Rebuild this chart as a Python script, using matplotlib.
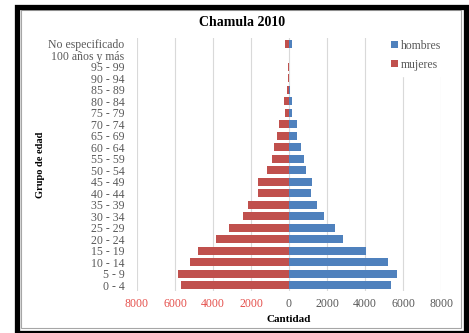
import matplotlib
matplotlib.use("Agg")
import matplotlib.pyplot as plt
from matplotlib.patches import Rectangle
from matplotlib.ticker import FixedLocator

# Population by age group, Chamula 2010
grupos = ["0 - 4", "5 - 9", "10 - 14", "15 - 19", "20 - 24", "25 - 29",
          "30 - 34", "35 - 39", "40 - 44", "45 - 49", "50 - 54", "55 - 59",
          "60 - 64", "65 - 69", "70 - 74", "75 - 79", "80 - 84", "85 - 89",
          "90 - 94", "95 - 99", "100 años y más", "No especificado"]
hombres = [5350, 5670, 5230, 4050, 2860, 2440, 1860, 1490, 1140, 1190,
           910, 770, 650, 400, 400, 175, 160, 30, 20, 10, 5, 160]
mujeres = [5680, 5830, 5210, 4810, 3840, 3180, 2420, 2140, 1630, 1650,
           1180, 910, 810, 610, 510, 195, 260, 105, 70, 30, 15, 195]
x_ticks = [-8000, -6000, -4000, -2000, 0, 2000, 4000, 6000, 8000]

azul = "#4F81BD"
rojo = "#C0504D"
gris_texto = "#595959"
rojo_texto = "#E5504C"
serif = ["Liberation Serif", "DejaVu Serif"]

fig = plt.figure(figsize=(4.69, 3.33), dpi=100)
fig.patch.set_facecolor("white")
ax = fig.add_axes([137 / 469, 42 / 333, 304 / 469, 253 / 333])

pos = list(range(len(grupos)))
ax.barh(pos, hombres, height=0.72, color=azul, label="hombres", zorder=3)
ax.barh(pos, [-m for m in mujeres], height=0.72, color=rojo, label="mujeres", zorder=3)

ax.set_xlim(-8000, 8000)
ax.set_ylim(-0.5, len(grupos) - 0.5)
ax.xaxis.set_major_locator(FixedLocator(x_ticks))
ax.set_xticklabels([str(abs(v)) for v in x_ticks], family=serif, fontsize=8.5)
for lbl, v in zip(ax.get_xticklabels(), x_ticks):
    lbl.set_color(rojo_texto if v < 0 else gris_texto)
ax.set_yticks(pos)
ax.set_yticklabels(grupos, family=serif, fontsize=8.5, color=gris_texto)
ax.tick_params(axis="y", length=0, pad=9)
ax.tick_params(axis="x", length=0, pad=5)

ax.grid(axis="x", color="#D9D9D9", linewidth=0.8, zorder=0)
ax.grid(axis="y", visible=False)
for s in ax.spines.values():
    s.set_visible(False)

ax.set_xlabel("Cantidad", family=serif, fontsize=8, fontweight="bold", labelpad=4)
fig.text(40 / 469, 1 - 165 / 333, "Grupo de edad", rotation=90, family=serif,
         fontsize=7.5, fontweight="bold", ha="center", va="center")
fig.text(242 / 469, 1 - 23 / 333, "Chamula 2010", family=serif, fontsize=10,
         fontweight="bold", ha="center", va="center")

leg = ax.legend(loc="upper right", bbox_to_anchor=(1.035, 1.035), frameon=True,
                facecolor="white", edgecolor="white", framealpha=1,
                prop={"family": serif, "size": 8.5}, handlelength=0.55,
                handleheight=0.55, handletextpad=0.25, labelspacing=0.6,
                borderpad=0.4)
for t in leg.get_texts():
    t.set_color(gris_texto)
leg.set_zorder(5)

# Frame around the whole chart
fig.patches.append(Rectangle((20.5 / 469, 5 / 333), 440 / 469, 318 / 333,
                             transform=fig.transFigure, fill=False,
                             edgecolor="#A6A6A6", linewidth=0.8))
fig.patches.append(Rectangle((16.5 / 469, 0.5 / 333), 449 / 469, 326 / 333,
                             transform=fig.transFigure, fill=False,
                             edgecolor="black", linewidth=3.8))

fig.savefig("out.png", dpi=100)
